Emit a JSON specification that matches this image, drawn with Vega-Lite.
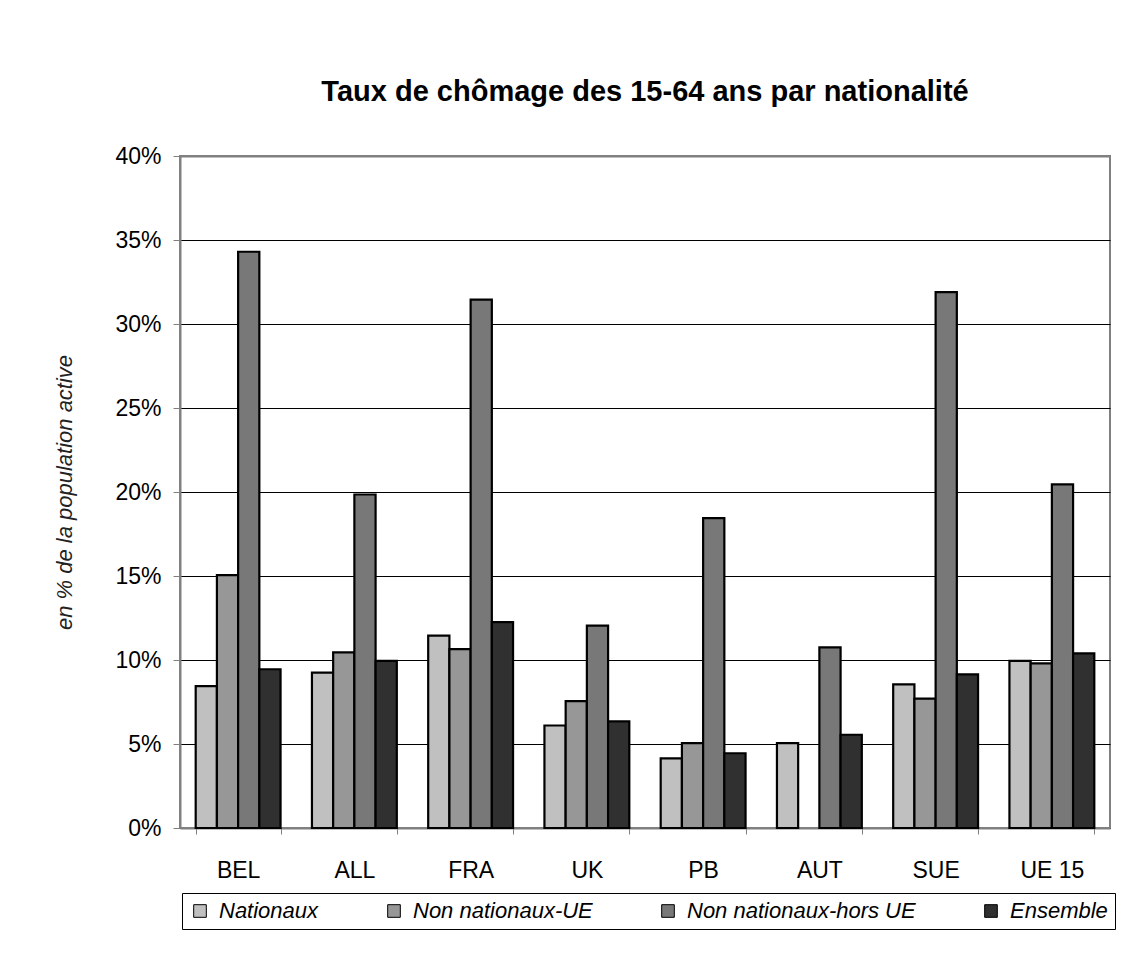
{
  "$schema": "https://vega.github.io/schema/vega-lite/v6.json",
  "width": 930,
  "height": 672,
  "autosize": "none",
  "padding": {"left": 180, "top": 156, "right": 21, "bottom": 132},
  "background": "white",
  "title": {
    "text": "Taux de chômage des 15-64 ans par nationalité",
    "fontSize": 29,
    "fontWeight": "bold",
    "font": "Liberation Sans",
    "color": "black",
    "offset": 38,
    "anchor": "middle"
  },
  "data": {
    "values": [
      {"pays": "BEL", "serie": "Nationaux", "taux": 8.45},
      {"pays": "BEL", "serie": "Non nationaux-UE", "taux": 15.05},
      {"pays": "BEL", "serie": "Non nationaux-hors UE", "taux": 34.3},
      {"pays": "BEL", "serie": "Ensemble", "taux": 9.45},
      {"pays": "ALL", "serie": "Nationaux", "taux": 9.25},
      {"pays": "ALL", "serie": "Non nationaux-UE", "taux": 10.45},
      {"pays": "ALL", "serie": "Non nationaux-hors UE", "taux": 19.85},
      {"pays": "ALL", "serie": "Ensemble", "taux": 9.95},
      {"pays": "FRA", "serie": "Nationaux", "taux": 11.45},
      {"pays": "FRA", "serie": "Non nationaux-UE", "taux": 10.65},
      {"pays": "FRA", "serie": "Non nationaux-hors UE", "taux": 31.45},
      {"pays": "FRA", "serie": "Ensemble", "taux": 12.25},
      {"pays": "UK", "serie": "Nationaux", "taux": 6.1},
      {"pays": "UK", "serie": "Non nationaux-UE", "taux": 7.55},
      {"pays": "UK", "serie": "Non nationaux-hors UE", "taux": 12.05},
      {"pays": "UK", "serie": "Ensemble", "taux": 6.35},
      {"pays": "PB", "serie": "Nationaux", "taux": 4.15},
      {"pays": "PB", "serie": "Non nationaux-UE", "taux": 5.05},
      {"pays": "PB", "serie": "Non nationaux-hors UE", "taux": 18.45},
      {"pays": "PB", "serie": "Ensemble", "taux": 4.45},
      {"pays": "AUT", "serie": "Nationaux", "taux": 5.05},
      {"pays": "AUT", "serie": "Non nationaux-hors UE", "taux": 10.75},
      {"pays": "AUT", "serie": "Ensemble", "taux": 5.55},
      {"pays": "SUE", "serie": "Nationaux", "taux": 8.55},
      {"pays": "SUE", "serie": "Non nationaux-UE", "taux": 7.7},
      {"pays": "SUE", "serie": "Non nationaux-hors UE", "taux": 31.9},
      {"pays": "SUE", "serie": "Ensemble", "taux": 9.15},
      {"pays": "UE 15", "serie": "Nationaux", "taux": 9.95},
      {"pays": "UE 15", "serie": "Non nationaux-UE", "taux": 9.8},
      {"pays": "UE 15", "serie": "Non nationaux-hors UE", "taux": 20.45},
      {"pays": "UE 15", "serie": "Ensemble", "taux": 10.4}
    ]
  },
  "mark": {"type": "bar", "stroke": "black", "strokeWidth": 2.2},
  "encoding": {
    "x": {
      "field": "pays",
      "type": "nominal",
      "sort": ["BEL", "ALL", "FRA", "UK", "PB", "AUT", "SUE", "UE 15"],
      "scale": {"paddingInner": 0.27, "paddingOuter": 0.135},
      "axis": {
        "title": null,
        "labelAngle": 0,
        "labelFontSize": 23,
        "labelColor": "black",
        "labelPadding": 25,
        "tickBand": "extent",
        "tickSize": 6,
        "tickColor": "#808080",
        "domainColor": "#808080",
        "domainWidth": 2
      }
    },
    "xOffset": {
      "field": "serie",
      "type": "nominal",
      "sort": ["Nationaux", "Non nationaux-UE", "Non nationaux-hors UE", "Ensemble"],
      "scale": {"domain": ["Nationaux", "Non nationaux-UE", "Non nationaux-hors UE", "Ensemble"], "paddingInner": 0, "paddingOuter": 0}
    },
    "y": {
      "field": "taux",
      "type": "quantitative",
      "scale": {"domain": [0, 40], "nice": false},
      "axis": {
        "values": [0, 5, 10, 15, 20, 25, 30, 35, 40],
        "labelExpr": "datum.value + '%'",
        "labelFontSize": 23,
        "labelColor": "black",
        "labelPadding": 12,
        "tickSize": 7,
        "tickColor": "#808080",
        "domainColor": "#808080",
        "domainWidth": 2,
        "grid": true,
        "gridColor": {"condition": {"test": "datum.value === 40", "value": "#808080"}, "value": "black"},
        "gridWidth": {"condition": {"test": "datum.value === 40", "value": 2}, "value": 1},
        "title": "en % de la population active",
        "titleFontSize": 22,
        "titleFontStyle": "italic",
        "titleFontWeight": "normal",
        "titleColor": "#222222",
        "titlePadding": 38
      }
    },
    "fill": {
      "field": "serie",
      "type": "nominal",
      "scale": {
        "domain": ["Nationaux", "Non nationaux-UE", "Non nationaux-hors UE", "Ensemble"],
        "range": ["#c0c0c0", "#979797", "#787878", "#303030"]
      },
      "legend": {
        "title": null,
        "orient": "none",
        "legendX": 2,
        "legendY": 737,
        "direction": "horizontal",
        "columns": 4,
        "symbolType": "square",
        "symbolSize": 160,
        "symbolStrokeColor": "black",
        "symbolStrokeWidth": 1,
        "labelFontSize": 22,
        "labelFontStyle": "italic",
        "labelColor": "black",
        "labelLimit": 400,
        "labelOffset": 8,
        "labelExpr": "datum.label == 'Ensemble' ? 'Ensemble\u00a0\u00a0\u00a0\u00a0\u00a0\u00a0' : datum.label",
        "strokeColor": "black",
        "padding": 7,
        "columnPadding": 64
      }
    }
  },
  "config": {
    "view": {"stroke": "#808080", "strokeWidth": 2},
    "font": "Liberation Sans"
  }
}
